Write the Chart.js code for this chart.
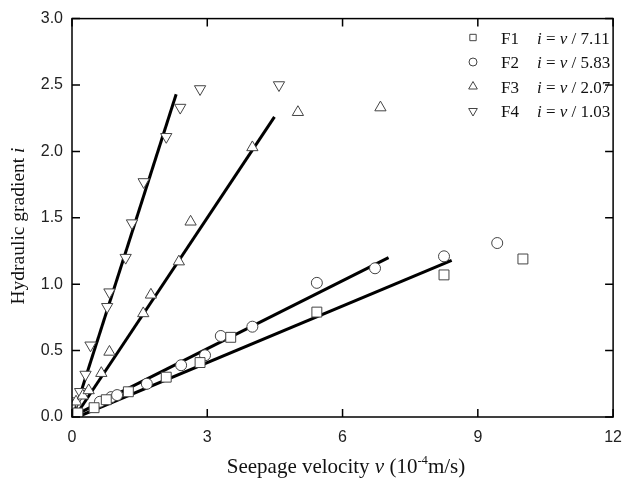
<!DOCTYPE html>
<html>
<head>
<meta charset="utf-8">
<script src="https://cdn.jsdelivr.net/npm/chart.js@4"></script>
<style>
  html, body { margin: 0; padding: 0; background: #fff; }
  #wrap { width: 633px; height: 486px; position: relative; }
</style>
</head>
<body>
<div id="wrap"><canvas id="chart" width="633" height="486"></canvas></div>
<script>
// Seepage velocity v (1e-4 m/s) vs hydraulic gradient i, four samples

const f1V = [0.13, 0.49, 0.76, 1.25, 2.09, 2.84, 3.52, 5.43, 8.25, 10.0];
const f1I = [0.03, 0.07, 0.13, 0.19, 0.30, 0.41, 0.60, 0.79, 1.07, 1.19];

const f2V = [0.62, 0.87, 1.00, 1.66, 2.42, 2.95, 3.30, 4.00, 5.43, 6.72, 8.25, 9.43];
const f2I = [0.115, 0.15, 0.165, 0.25, 0.39, 0.465, 0.61, 0.68, 1.01, 1.12, 1.21, 1.31];

const f3V = [0.09, 0.24, 0.37, 0.65, 0.83, 1.58, 1.75, 2.37, 2.63, 4.00, 5.01, 6.84];
const f3I = [0.115, 0.16, 0.20, 0.33, 0.49, 0.78, 0.92, 1.17, 1.47, 2.03, 2.295, 2.33];

const f4V = [0.10, 0.18, 0.30, 0.41, 0.78, 0.83, 1.19, 1.33, 1.59, 2.09, 2.40, 2.84, 4.59];
const f4I = [0.12, 0.19, 0.32, 0.54, 0.83, 0.94, 1.20, 1.46, 1.77, 2.11, 2.33, 2.47, 2.50];

// fitted lines, end points
const fitNames = ['F1', 'F2', 'F3', 'F4'];
const fitLabels = ['7.11', '5.83', '2.07', '1.03'];
const fitV = [[0.12, 8.42], [0.10, 7.02], [0.12, 4.49], [0.05, 2.31]];
const fitI = [[0.00, 1.18], [0.02, 1.20], [0.03, 2.26], [0.03, 2.43]];

const xTicks = [0, 3, 6, 9, 12];
const yTicks = [0, 0.5, 1.0, 1.5, 2.0, 2.5, 3.0];

const SERIF = '"Liberation Serif", "Times New Roman", serif';
const SANS = '"Liberation Sans", Arial, sans-serif';
const MARK = '#444';

const pts = (xs, ys) => xs.map((x, k) => ({ x: x, y: ys[k] }));

const markers = [
    { style: 'rect', radius: 7, rotation: 0 },
    { style: 'circle', radius: 5.5, rotation: 0 },
    { style: 'triangle', radius: 6.5, rotation: 0 },
    { style: 'triangle', radius: 6.5, rotation: 180 },
];
const seriesV = [f1V, f2V, f3V, f4V];
const seriesI = [f1I, f2I, f3I, f4I];

const datasets = [];
fitV.forEach((v, k) => {
    datasets.push({
        label: fitNames[k] + ' fit',
        data: pts(v, fitI[k]),
        showLine: true,
        borderColor: '#000',
        borderWidth: 3,
        pointRadius: 0,
        order: 2,
    });
});
seriesV.forEach((v, k) => {
    datasets.push({
        label: fitNames[k],
        data: pts(v, seriesI[k]),
        showLine: false,
        pointStyle: markers[k].style,
        pointRadius: markers[k].radius,
        pointRotation: markers[k].rotation,
        pointBorderColor: MARK,
        pointBackgroundColor: '#fff',
        pointBorderWidth: 1,
        order: 1,
    });
});

// draw a run of text pieces, some italic / superscript
function richText(ctx, parts, x, y, size, align) {
    const fontOf = p => (p.it ? 'italic ' : '') + (p.sup ? size * 0.6 : size) + 'px ' + SERIF;
    let total = 0;
    parts.forEach(p => { ctx.font = fontOf(p); total += ctx.measureText(p.t).width; });
    let cx = align === 'center' ? x - total / 2 : x;
    ctx.textAlign = 'left';
    ctx.textBaseline = 'alphabetic';
    parts.forEach(p => {
        ctx.font = fontOf(p);
        ctx.fillText(p.t, cx, p.sup ? y - size * 0.42 : y);
        cx += ctx.measureText(p.t).width;
    });
}

const framePlugin = {
    id: 'frame',
    afterDraw(chart) {
        const { ctx, chartArea: a, scales } = chart;
        ctx.save();
        ctx.strokeStyle = '#000';
        ctx.lineWidth = 1.5;
        ctx.strokeRect(a.left, a.top, a.right - a.left, a.bottom - a.top);

        // inward tick marks on all four sides
        ctx.beginPath();
        xTicks.forEach(t => {
            const px = scales.x.getPixelForValue(t);
            ctx.moveTo(px, a.bottom); ctx.lineTo(px, a.bottom - 8);
            ctx.moveTo(px, a.top); ctx.lineTo(px, a.top + 8);
        });
        yTicks.forEach(t => {
            const py = scales.y.getPixelForValue(t);
            ctx.moveTo(a.left, py); ctx.lineTo(a.left + 8, py);
            ctx.moveTo(a.right, py); ctx.lineTo(a.right - 8, py);
        });
        ctx.stroke();

        // legend
        const legendY = [37.5, 62, 86.5, 111];
        const legendMarks = [
            { style: 'rect', radius: 4.5, rotation: 0 },
            { style: 'circle', radius: 4, rotation: 0 },
            { style: 'triangle', radius: 5, rotation: 0 },
            { style: 'triangle', radius: 5, rotation: 180 },
        ];
        fitNames.forEach((name, k) => {
            const y = legendY[k];
            ctx.strokeStyle = MARK;
            ctx.lineWidth = 1;
            ctx.fillStyle = '#fff';
            Chart.helpers.drawPoint(ctx, {
                pointStyle: legendMarks[k].style,
                radius: legendMarks[k].radius,
                rotation: legendMarks[k].rotation,
                borderWidth: 1,
            }, 473, y);
            ctx.fillStyle = '#111';
            richText(ctx, [{ t: name }], 501, y + 6, 17, 'left');
            richText(ctx, [{ t: 'i', it: true }, { t: ' = ' }, { t: 'v', it: true }, { t: ' / ' + fitLabels[k] }], 537, y + 6, 17, 'left');
        });

        // axis titles
        ctx.fillStyle = '#111';
        richText(ctx, [{ t: 'Seepage velocity ' }, { t: 'v', it: true }, { t: ' (10' }, { t: '-4', sup: true }, { t: 'm/s)' }], 346, 473, 21, 'center');
        ctx.translate(24, 226);
        ctx.rotate(-Math.PI / 2);
        richText(ctx, [{ t: 'Hydraulic gradient ' }, { t: 'i', it: true }], 0, 0, 19.5, 'center');
        ctx.restore();
    }
};

new Chart(document.getElementById('chart'), {
    type: 'scatter',
    data: { datasets: datasets },
    plugins: [framePlugin],
    options: {
        responsive: false,
        animation: false,
        layout: { padding: { left: 0, right: 9, top: 16, bottom: 0 } },
        plugins: { legend: { display: false }, tooltip: { enabled: false } },
        scales: {
            x: {
                min: 0, max: 12,
                afterFit: s => { s.height = 69; },
                afterBuildTicks: s => { s.ticks = xTicks.map(v => ({ value: v })); },
                grid: { display: false, drawTicks: false },
                border: { display: false },
                ticks: { color: '#222', font: { family: SANS, size: 16 }, padding: 11, maxRotation: 0 },
            },
            y: {
                min: 0, max: 3,
                afterFit: s => { s.width = 72; },
                afterBuildTicks: s => { s.ticks = yTicks.map(v => ({ value: v })); },
                grid: { display: false, drawTicks: false },
                border: { display: false },
                ticks: { color: '#222', font: { family: SANS, size: 16 }, padding: 9, callback: v => v.toFixed(1) },
            },
        },
    },
});
</script>
</body>
</html>
